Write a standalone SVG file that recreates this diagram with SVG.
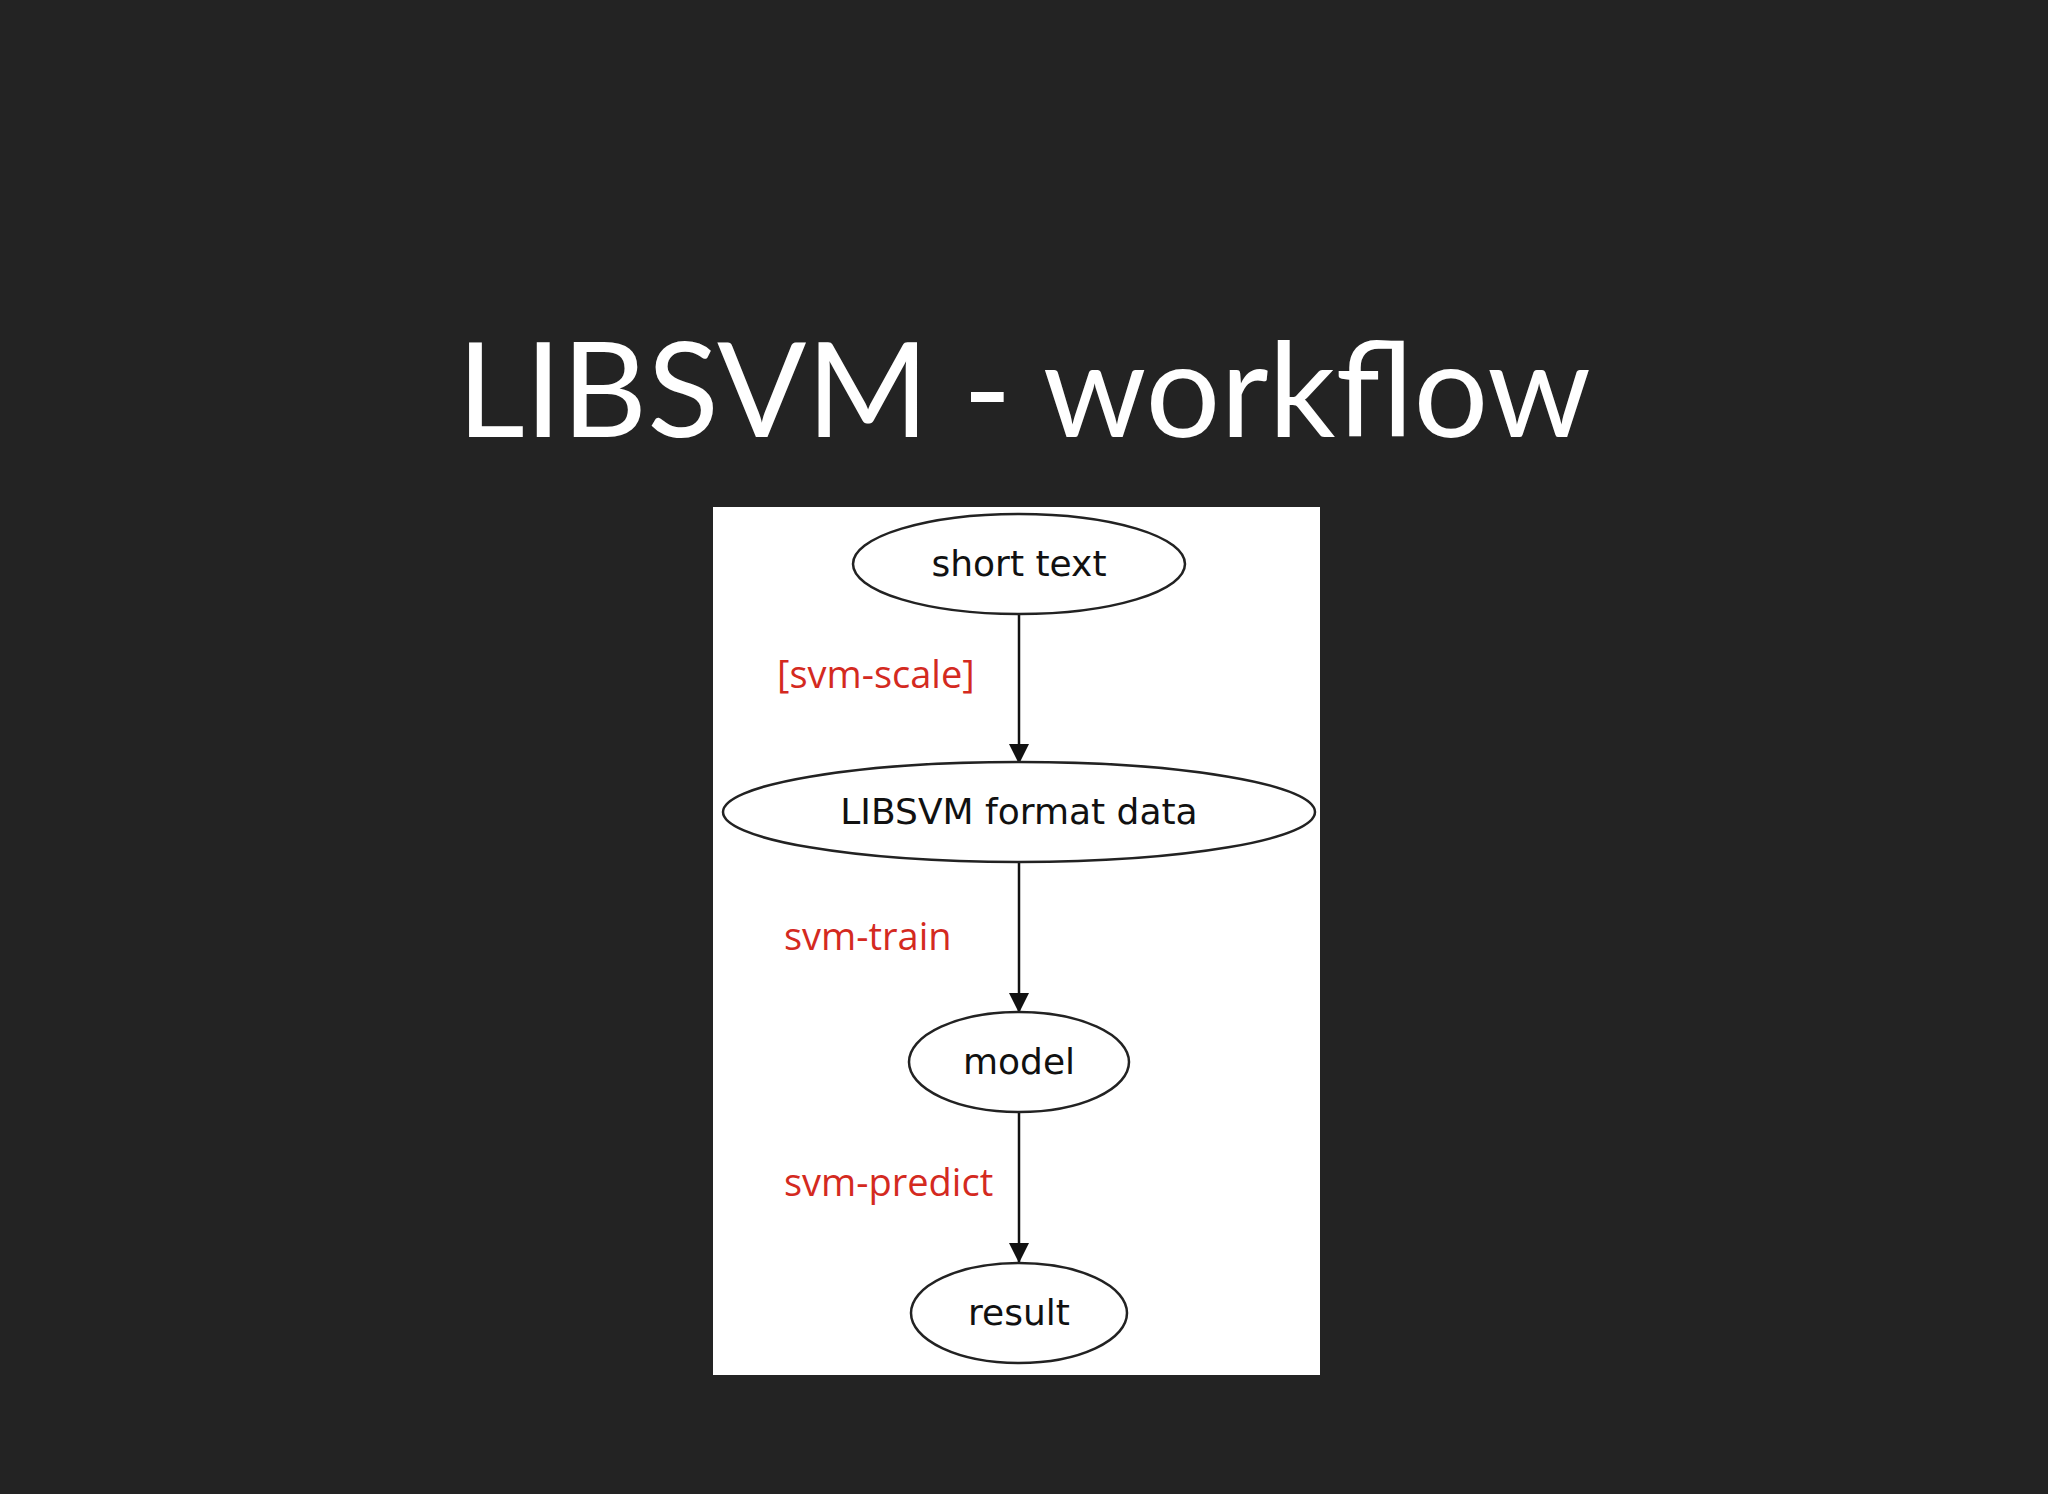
<svg xmlns="http://www.w3.org/2000/svg" width="2048" height="1494" viewBox="0 0 2048 1494">
<style>
.n{fill:#fff;stroke:#222;stroke-width:2.5}
.t{font-family:"DejaVu Sans",sans-serif;font-size:36px;fill:#111;text-anchor:middle}
.l{font-family:"Open Sans","DejaVu Sans",sans-serif;font-size:38px;fill:#d42a1f}
.e{stroke:#111;stroke-width:2.5;fill:none}
</style>
<defs><marker id="a" viewBox="0 0 10 10" refX="10" refY="5" markerWidth="10" markerHeight="10" markerUnits="userSpaceOnUse" orient="auto"><path d="M0,0 L10,5 L0,10z" fill="#111" transform="scale(1)"/></marker>
<marker id="b" viewBox="0 0 20 28" refX="28" refY="14" markerWidth="28" markerHeight="20" markerUnits="userSpaceOnUse" orient="auto"><path d="M0,0 L28,14 L0,28z" fill="#111"/></marker></defs>
<rect width="2048" height="1494" fill="#232323"/>
<text x="1024" y="437" font-family="Lato,'Open Sans',sans-serif" font-size="132" fill="#fff" text-anchor="middle">LIBSVM - workflow</text>
<rect x="713" y="507" width="607" height="868" fill="#fff"/>
<g id="connectors">
<line class="e" x1="1019" y1="614" x2="1019" y2="764" marker-end="url(#b)"/>
<line class="e" x1="1019" y1="862" x2="1019" y2="1013" marker-end="url(#b)"/>
<line class="e" x1="1019" y1="1113" x2="1019" y2="1263" marker-end="url(#b)"/>
<text class="l" x="777" y="688">[svm-scale]</text>
<text class="l" x="784" y="950">svm-train</text>
<text class="l" x="784" y="1196">svm-predict</text>
</g>
<g id="short"><ellipse class="n" cx="1019" cy="564" rx="166" ry="50"/><text class="t" x="1019" y="576">short text</text></g>
<g id="libsvm"><ellipse class="n" cx="1019" cy="812" rx="296" ry="50"/><text class="t" x="1019" y="824">LIBSVM format data</text></g>
<g id="model"><ellipse class="n" cx="1019" cy="1062" rx="110" ry="50"/><text class="t" x="1019" y="1074">model</text></g>
<g id="result"><ellipse class="n" cx="1019" cy="1313" rx="108" ry="50"/><text class="t" x="1019" y="1325">result</text></g>
</svg>
